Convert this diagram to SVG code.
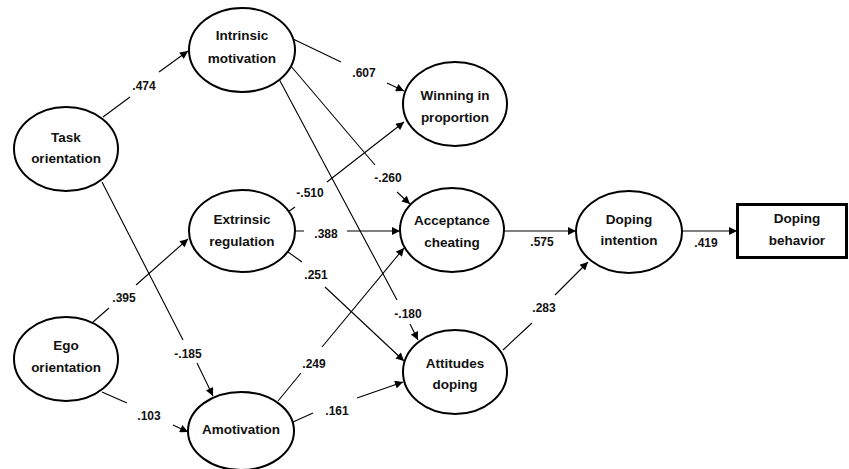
<svg xmlns="http://www.w3.org/2000/svg" width="849" height="469" viewBox="0 0 849 469">
<defs>
<marker id="ah" viewBox="0 0 10 10" refX="10" refY="5" markerWidth="9" markerHeight="8" markerUnits="userSpaceOnUse" orient="auto">
<path d="M0,0 L10,5 L0,10 z" fill="#000"/>
</marker>
<style>
.n ellipse{fill:#fff;stroke:#000;stroke-width:2}
.n rect{fill:#fff;stroke:#000;stroke-width:3}
.n text{font-family:"Liberation Sans",Arial,sans-serif;font-weight:bold;font-size:13.5px;fill:#111;text-anchor:middle}
.c path{fill:none;stroke:#000;stroke-width:1.1;marker-end:url(#ah)}
.c text{font-family:"Liberation Sans",Arial,sans-serif;font-weight:bold;font-size:12px;fill:#111;text-anchor:middle}
</style>
</defs>
<rect width="849" height="469" fill="#fff"/>
<g id="connectors" class="c">
<path d="M103,117 L130,97 M159,72 L188,51"/>
<text x="144" y="90">.474</text>
<path d="M102,182 L183,340 M197,363 L213,396"/>
<text x="188" y="358">-.185</text>
<path d="M93,322 L109,308 M136,285 L188,239"/>
<text x="124" y="302">.395</text>
<path d="M102,392 L127,403 M173,425 L188,432"/>
<text x="149" y="420">.103</text>
<path d="M293,39 L341,62 M387,83 L404,91"/>
<text x="364" y="77">.607</text>
<path d="M290,65 L375,165 M397,192 L410,204"/>
<text x="388" y="182">-.260</text>
<path d="M279,79 L397,300 M410,324 L418,340"/>
<text x="408" y="318">-.180</text>
<path d="M288,212 L295,207 M327,182 L404,122"/>
<text x="310" y="197">-.510</text>
<path d="M295,231 L304,231 M347,231 L400,231"/>
<text x="326" y="238">.388</text>
<path d="M288,252 L302,262 M325,287 L404,361"/>
<text x="316" y="279">.251</text>
<path d="M278,401 L301,373 M322,347 L404,248"/>
<text x="314" y="368">.249</text>
<path d="M293,422 L313,413 M357,398 L403,382"/>
<text x="337" y="415">.161</text>
<path d="M504,231 L576,231"/>
<text x="542" y="246">.575</text>
<path d="M503,350 L532,323 M555,295 L588,262"/>
<text x="544" y="312">.283</text>
<path d="M682,231 L737,231"/>
<text x="706" y="247">.419</text>
</g>
<g id="task" class="n"><ellipse cx="66" cy="149" rx="52" ry="42"/><text x="66" y="142">Task</text><text x="66" y="163">orientation</text></g>
<g id="ego" class="n"><ellipse cx="66" cy="359" rx="52" ry="42"/><text x="66" y="350">Ego</text><text x="66" y="372">orientation</text></g>
<g id="intrinsic" class="n"><ellipse cx="242" cy="50" rx="53" ry="42"/><text x="242" y="40">Intrinsic</text><text x="242" y="63">motivation</text></g>
<g id="extrinsic" class="n"><ellipse cx="242" cy="231" rx="53" ry="41"/><text x="242" y="224">Extrinsic</text><text x="242" y="246">regulation</text></g>
<g id="amotivation" class="n"><ellipse cx="241" cy="431" rx="53" ry="39"/><text x="241" y="434">Amotivation</text></g>
<g id="winning" class="n"><ellipse cx="455" cy="104" rx="52" ry="42"/><text x="455" y="100">Winning in</text><text x="455" y="122">proportion</text></g>
<g id="acceptance" class="n"><ellipse cx="452" cy="230" rx="52" ry="42"/><text x="452" y="225">Acceptance</text><text x="452" y="247">cheating</text></g>
<g id="attitudes" class="n"><ellipse cx="455" cy="372" rx="52" ry="42"/><text x="455" y="368">Attitudes</text><text x="455" y="389">doping</text></g>
<g id="intention" class="n"><ellipse cx="629" cy="232" rx="53" ry="41"/><text x="629" y="224">Doping</text><text x="629" y="245">intention</text></g>
<g id="behavior" class="n"><rect x="737.5" y="204.5" width="109" height="53"/><text x="797" y="223">Doping</text><text x="797" y="245">behavior</text></g>
</svg>
